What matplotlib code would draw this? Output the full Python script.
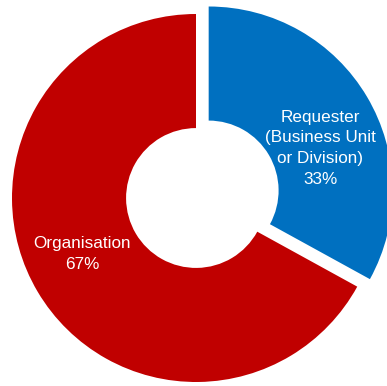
import matplotlib.pyplot as plt

# Share of requests by source
labels = ['Requester\n(Business Unit\nor Division)', 'Organisation']
values = [33, 67]
colors = ['#0070C0', '#C00000']
explode = [0.08, 0]
# label centres in axis units (ring radius = 1)
label_pos = [(0.674, 0.270), (-0.620, -0.304)]

plt.rcParams['font.family'] = ['Liberation Sans', 'DejaVu Sans']

fig = plt.figure(figsize=(3.87, 3.86), dpi=100)
ax = fig.add_axes([0, 0, 1, 1])

wedges, texts, autotexts = ax.pie(
    values, colors=colors, explode=explode, startangle=90, counterclock=False,
    autopct='%1.0f%%', pctdistance=0.64,
    wedgeprops=dict(width=0.62, linewidth=0))

for lab, val, pos, t in zip(labels, values, label_pos, autotexts):
    t.set_text(f'{lab}\n{val}%')
    t.set_position(pos)
    t.set_color('white')
    t.set_fontsize(12.3)
    t.set_ha('center')
    t.set_va('center')
    t.set_linespacing(1.48)

# Place the centre so the ring fills the frame
r = 184.0
ax.set_xlim(-196 / r, (387 - 196) / r)
ax.set_ylim(-188 / r, (386 - 188) / r)
ax.set_aspect('equal')
ax.axis('off')

fig.savefig('out.png', dpi=100)
